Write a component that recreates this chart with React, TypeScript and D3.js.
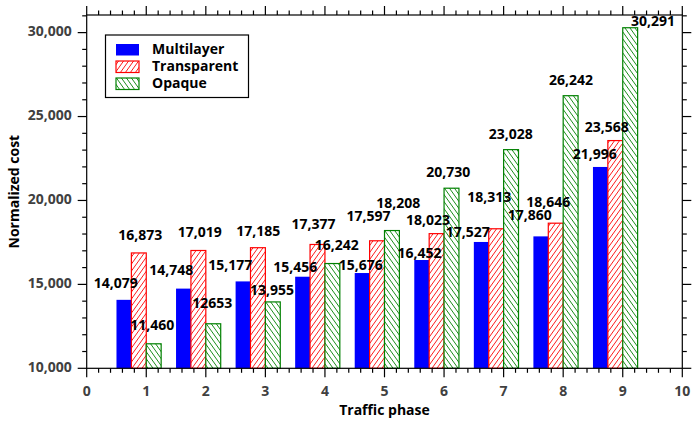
import React from 'react';
import * as d3 from 'd3';

// chart data
const phases = [1, 2, 3, 4, 5, 6, 7, 8, 9];
const multilayer = [14079, 14748, 15177, 15456, 15676, 16452, 17527, 17860, 21996];
const transparent = [16873, 17019, 17185, 17377, 17597, 18023, 18313, 18646, 23568];
const opaque = [11460, 12653, 13955, 16242, 18208, 20730, 23028, 26242, 30291];

// value labels as they were placed on the chart (text, x in phase units, y in cost units)
const multilayerText = ['14,079', '14,748', '15,177', '15,456', '15,676', '16,452', '17,527', '17,860', '21,996'];
const multilayerLabelX = [0.49, 1.42, 2.41, 3.5, 4.6, 5.59, 6.4, 7.44, 8.53];
const multilayerLabelY = [15024, 15757, 16055, 15960, 16097, 16794, 18045, 19035, 22712];

const transparentText = ['16,873', '17,019', '17,185', '17,377', '17,597', '18,023', '18,313', '18,646', '23,568'];
const transparentLabelX = [0.9, 1.9, 2.88, 3.81, 4.73, 5.73, 6.76, 7.75, 8.73];
const transparentLabelY = [17872, 18050, 18112, 18498, 19000, 18778, 20131, 19833, 24303];

const opaqueText = ['11,460', '12653', '13,955', '16,242', '18,208', '20,730', '23,028', '26,242', '30,291'];
const opaqueLabelX = [1.1, 2.11, 3.11, 4.2, 5.23, 6.07, 7.12, 8.13, 9.51];
const opaqueLabelY = [12479, 13832, 14607, 17288, 19792, 21621, 23904, 27080, 30620];

const xTicks = [0, 1, 2, 3, 4, 5, 6, 7, 8, 9, 10];
const yTicks = [10000, 15000, 20000, 25000, 30000];
const seriesNames = ['Multilayer', 'Transparent', 'Opaque'];

const W = 697;
const H = 429;
const FONT = '"Open Sans", "DejaVu Sans", sans-serif';
const FS = 14;

const App: React.FC = () => {
  const x = d3.scaleLinear().domain([0, 10]).range([86.7, 682.3]);
  const y = d3.scaleLinear().domain([10000, 31050]).range([368.3, 15]);
  const [x0, x1] = x.range();
  const [yb, yt] = y.range();

  const xMinor = d3.range(0, 10.001, 0.2).filter(v => Math.abs(v - Math.round(v)) > 1e-6);
  const yMinor = d3.range(10000, 31001, 1000).filter(v => v % 5000 !== 0);
  const fmt = d3.format(',');

  const bw = 0.25;
  const series = [
    { name: 'Multilayer', values: multilayer, off: -0.5, fill: '#0000ff', stroke: 'none',
      text: multilayerText, lx: multilayerLabelX, ly: multilayerLabelY },
    { name: 'Transparent', values: transparent, off: -0.25, fill: 'url(#hatchRed)', stroke: '#ff0000',
      text: transparentText, lx: transparentLabelX, ly: transparentLabelY },
    { name: 'Opaque', values: opaque, off: 0, fill: 'url(#hatchGreen)', stroke: '#008000',
      text: opaqueText, lx: opaqueLabelX, ly: opaqueLabelY },
  ];

  return (
    <div style={{ position: 'fixed', left: 0, top: 0 }}>
      <svg width={W} height={H} style={{ display: 'block', background: '#fff' }}>
        <defs>
          <pattern id="hatchRed" patternUnits="userSpaceOnUse" width={5} height={7}>
            <rect width={5} height={7} fill="#fff" />
            <path d="M0,7 L5,0 M-1,1.4 L1,-1.4 M4,8.4 L6,5.6" stroke="#ff0000" strokeWidth={0.9} />
          </pattern>
          <pattern id="hatchGreen" patternUnits="userSpaceOnUse" width={5} height={7}>
            <rect width={5} height={7} fill="#fff" />
            <path d="M0,0 L5,7 M-1,5.6 L1,8.4 M4,-1.4 L6,1.4" stroke="#008000" strokeWidth={0.9} />
          </pattern>
        </defs>

        {/* bars */}
        {series.map(s => (
          <g key={s.name}>
            {phases.map((p, i) => (
              <rect
                key={p}
                x={x(p + s.off)}
                y={y(s.values[i])}
                width={x(p + s.off + bw) - x(p + s.off)}
                height={yb - y(s.values[i])}
                fill={s.fill}
                stroke={s.stroke}
                strokeWidth={1.2}
              />
            ))}
          </g>
        ))}

        {/* frame */}
        <rect x={x0} y={yt} width={x1 - x0} height={yb - yt} fill="none" stroke="#000" strokeWidth={1.2} />

        {/* ticks on all four sides, pointing out */}
        <g stroke="#000" strokeWidth={1.2}>
          {xTicks.map(t => (
            <g key={t}>
              <line x1={x(t)} x2={x(t)} y1={yb} y2={yb + 9} />
              <line x1={x(t)} x2={x(t)} y1={yt} y2={yt - 9} />
            </g>
          ))}
          {xMinor.map(t => (
            <g key={t}>
              <line x1={x(t)} x2={x(t)} y1={yb} y2={yb + 4.5} />
              <line x1={x(t)} x2={x(t)} y1={yt} y2={yt - 4.5} />
            </g>
          ))}
          {yTicks.map(t => (
            <g key={t}>
              <line x1={x0} x2={x0 - 9} y1={y(t)} y2={y(t)} />
              <line x1={x1} x2={x1 + 9} y1={y(t)} y2={y(t)} />
            </g>
          ))}
          {yMinor.map(t => (
            <g key={t}>
              <line x1={x0} x2={x0 - 4.5} y1={y(t)} y2={y(t)} />
              <line x1={x1} x2={x1 + 4.5} y1={y(t)} y2={y(t)} />
            </g>
          ))}
        </g>

        {/* tick labels */}
        <g fontFamily={FONT} fontWeight={700} fontSize={FS} fill="#404040">
          {xTicks.map(t => (
            <text key={t} x={x(t)} y={yb + 24} textAnchor="middle" dominantBaseline="middle">{t}</text>
          ))}
          {yTicks.map(t => (
            <text key={t} x={x0 - 15} y={y(t)} textAnchor="end" dominantBaseline="middle">{fmt(t)}</text>
          ))}
        </g>

        {/* axis titles */}
        <text x={(x0 + x1) / 2} y={411} textAnchor="middle" dominantBaseline="middle"
          fontFamily={FONT} fontWeight={700} fontSize={FS} fill="#000">Traffic phase</text>
        <text transform={`translate(15,${(yb + yt) / 2}) rotate(-90)`} textAnchor="middle" dominantBaseline="middle"
          fontFamily={FONT} fontWeight={700} fontSize={FS} fill="#000">Normalized cost</text>

        {/* value labels */}
        <g fontFamily={FONT} fontWeight={700} fontSize={FS} fill="#000">
          {series.map(s =>
            s.text.map((t, i) => (
              <text key={s.name + i} x={x(s.lx[i])} y={y(s.ly[i])} textAnchor="middle" dominantBaseline="middle">{t}</text>
            ))
          )}
        </g>

        {/* legend */}
        <g>
          <rect x={105.5} y={35} width={143} height={62.5} fill="#fff" stroke="#000" strokeWidth={1.2} />
          {seriesNames.map((n, i) => (
            <g key={n} transform={`translate(0,${i * 17})`}>
              <rect x={116} y={44} width={23} height={11.5}
                fill={series[i].fill} stroke={series[i].stroke} strokeWidth={1.2} />
              <text x={152} y={50} dominantBaseline="middle" fontFamily={FONT} fontWeight={700}
                fontSize={FS} fill="#000">{n}</text>
            </g>
          ))}
        </g>
      </svg>
    </div>
  );
};

export default App;
